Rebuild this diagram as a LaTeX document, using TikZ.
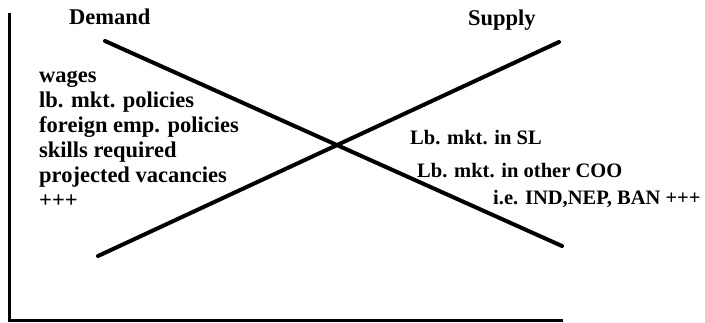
\documentclass[tikz,border=0pt]{standalone}
\usepackage{fontspec}
\setmainfont{Liberation Serif}
\usepackage{tikz}
\usepackage{xcolor}
\tikzset{
    axis-line/.style = {draw=black, line width=3pt},
    curve-line/.style = {draw=black, line width=4pt, line cap=round},
    label-text/.style = {inner sep=0pt, font=\fontsize{22.5}{25}\selectfont\bfseries},
    note-text/.style = {inner sep=0pt, font=\fontsize{20.5}{25}\selectfont\bfseries},
}

\begin{document}
\begin{tikzpicture}[x=1pt, y=-1pt]
\useasboundingbox (0,0) rectangle (705,322);
\coordinate (y-top) at (9,13);
\coordinate (origin) at (9,320);
\coordinate (x-end) at (563,320);
\coordinate (demand-start) at (105,41);
\coordinate (demand-end) at (562,246);
\coordinate (supply-start) at (98,256);
\coordinate (supply-end) at (559,42);
\draw [axis-line] (y-top) -- (origin) -- (x-end);
\draw [curve-line] (demand-start) -- (demand-end);
\draw [curve-line] (supply-start) -- (supply-end);
\node [label-text, anchor=base west] (demand) at (69,24) {Demand};
\node [label-text, anchor=base west] (supply) at (468,25) {Supply};
\node [label-text, anchor=north west, align=left] (demand-factors) at (39,71) {wages\\
    lb. mkt. policies\\
    foreign emp. policies\\
    skills required\\
    projected vacancies\\
    +++};
\node [note-text, anchor=base west] (supply-sl) at (410,144) {Lb. mkt. in SL};
\node [note-text, anchor=base west] (supply-coo) at (417,177) {Lb. mkt. in other COO};
\node [note-text, anchor=base west] (supply-coo-list) at (493,204) {i.e. IND,NEP, BAN +++};
\end{tikzpicture}
\end{document}
